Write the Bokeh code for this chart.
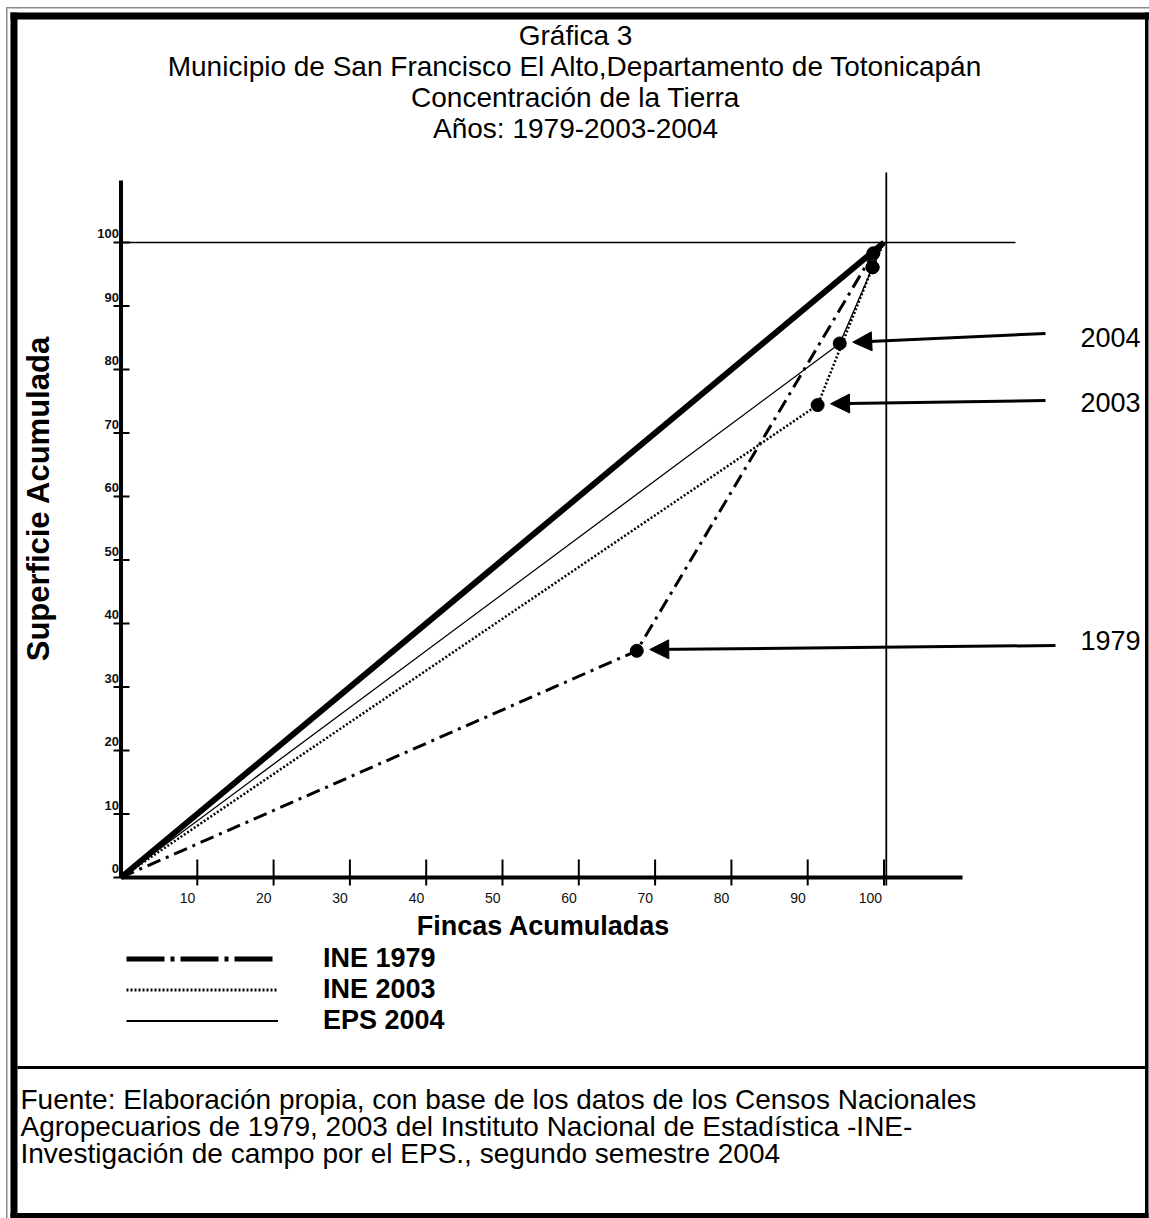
import math
from bokeh.plotting import figure
from bokeh.models import Range1d, Arrow, NormalHead, Legend, LegendItem
from bokeh.core.properties import value
from bokeh.embed import file_html
from bokeh.resources import INLINE

# ---------------- data ----------------
fincas_1979 = [0, 67.6, 98.6, 100]
superficie_1979 = [0, 35.7, 98.3, 100]
fincas_2003 = [0, 91.3, 98.5, 100]
superficie_2003 = [0, 74.4, 96.1, 100]
fincas_2004 = [0, 94.2, 98.5, 100]
superficie_2004 = [0, 84.1, 96.1, 100]
equidad = [0, 100]
x_ticks = [10, 20, 30, 40, 50, 60, 70, 80, 90, 100]
y_ticks = [0, 10, 20, 30, 40, 50, 60, 70, 80, 90, 100]
series_labels = ["INE 1979", "INE 2003", "EPS 2004"]
callout_labels = ["1979", "2003", "2004"]
title_lines = ["Gráfica 3",
               "Municipio de San Francisco El Alto,Departamento de Totonicapán",
               "Concentración de la Tierra",
               "Años: 1979-2003-2004"]
source_lines = ["Fuente:  Elaboración propia, con base de los datos de los Censos Nacionales",
                "Agropecuarios de 1979, 2003 del Instituto Nacional de Estadística -INE-",
                "Investigación de campo por el EPS., segundo semestre 2004"]

# ---------------- layout ----------------
W, H = 1149, 1218
PAGE = 0
X0_REF, SX = 120.5, 7.63
Y0_REF, SY = 877.0, 6.35
FONT = "Liberation Sans"


def fx(px):
    return (px - X0_REF) / SX


def fy(py):
    return (Y0_REF - py) / SY


p = figure(width=W, height=H, x_range=Range1d(fx(PAGE), fx(PAGE + W)),
           y_range=Range1d(fy(PAGE + H), fy(PAGE)),
           x_axis_type=None, y_axis_type=None, title=None,
           output_backend="svg", toolbar_location=None, min_border=0)
p.outline_line_color = None
p.background_fill_color = "white"
p.border_fill_color = "white"

# ---------------- frame / borders ----------------
quads = [
    (5.5, 1149, 6.5, 8, "#8a8a8a"),            # thin top
    (5.5, 7, 6.5, 1218, "#8a8a8a"),            # thin left
    (10, 1149, 12, 19, "black"),               # thick top
    (10, 17, 12, 1218, "black"),               # thick left
    (1144.5, 1148, 12, 1218, "black"),         # right
    (10, 1148, 1212.5, 1218, "black"),         # bottom
    (17, 1144.5, 1065.5, 1068.5, "black"),     # separator
]
p.quad(left=[fx(q[0]) for q in quads], right=[fx(q[1]) for q in quads],
       top=[fy(q[2]) for q in quads], bottom=[fy(q[3]) for q in quads],
       fill_color=[q[4] for q in quads], line_color=None)

# ---------------- axes & reference lines ----------------
p.segment(x0=[0], y0=[0], x1=[0], y1=[fy(180)], line_width=4, line_color="black")
p.segment(x0=[0], y0=[0], x1=[fx(962)], y1=[0], line_width=4, line_color="black")
p.segment(x0=[0], y0=[100], x1=[fx(1015)], y1=[100], line_width=1.6, line_color="black")
p.segment(x0=[100.3], y0=[fy(885)], x1=[100.3], y1=[fy(172)], line_width=1.8, line_color="black")

p.segment(x0=[fx(113)] * len(y_ticks), y0=y_ticks, x1=[fx(129)] * len(y_ticks), y1=y_ticks,
          line_width=2.2, line_color="black")
p.segment(x0=x_ticks, y0=[fy(885)] * len(x_ticks), x1=x_ticks, y1=[fy(859)] * len(x_ticks),
          line_width=2, line_color="black")

p.text(x=[fx(118.5)] * len(y_ticks), y=y_ticks, text=[str(v) for v in y_ticks],
       y_offset=-9, text_align="right", text_baseline="middle",
       text_font=value(FONT), text_font_size="13px", text_font_style="bold", text_color="#111111")
p.text(x=x_ticks, y=[fy(897)] * len(x_ticks), text=[str(v) for v in x_ticks],
       x_offset=-2, text_align="right", text_baseline="middle",
       text_font=value(FONT), text_font_size="14px", text_color="#111111")

# axis titles
p.text(x=[fx(543)], y=[fy(925)], text=["Fincas Acumuladas"], text_align="center",
       text_baseline="middle", text_font=value(FONT), text_font_size="27px",
       text_font_style="bold", text_color="black")
p.text(x=[fx(38)], y=[fy(498)], text=["Superficie Acumulada"], angle=math.pi / 2,
       text_align="center", text_baseline="middle", text_font=value(FONT),
       text_font_size="31px", text_font_style="bold", text_color="black")

# ---------------- series ----------------
p.line(equidad, equidad, line_width=6, line_color="black")
p.line(fincas_2004, superficie_2004, line_width=1.3, line_color="black")
p.line(fincas_2003, superficie_2003, line_width=2.5, line_color="black", line_dash="2 2")
p.line(fincas_1979, superficie_1979, line_width=3, line_color="black", line_dash="14 6 3 6")

for fx_, sy_ in [(fincas_1979, superficie_1979), (fincas_2003, superficie_2003),
                 (fincas_2004, superficie_2004)]:
    p.scatter(fx_[1:3], sy_[1:3], size=13, marker="circle", fill_color="black", line_color="black")

# ---------------- callout arrows ----------------
arrow_start = [(fx(1055), fy(645)), (fx(1045), fy(400)), (fx(1045), fy(333))]
pts = [(fincas_1979[1], superficie_1979[1]), (fincas_2003[1], superficie_2003[1]),
       (fincas_2004[1], superficie_2004[1])]
for (xs, ys), (xp, yp) in zip(arrow_start, pts):
    p.add_layout(Arrow(x_start=xs, y_start=ys, x_end=xp + 1.7, y_end=yp + 0.2,
                       line_width=3, line_color="black",
                       end=NormalHead(size=19, fill_color="black", line_color="black")))
p.text(x=[fx(1140)] * 3, y=[fy(640), fy(402), fy(337)], text=callout_labels,
       text_align="right", text_baseline="middle", text_font=value(FONT),
       text_font_size="27px", text_color="black")

# ---------------- legend ----------------
nan = float("nan")
lg1 = p.line([nan], [nan], line_width=5, line_color="black", line_dash="38 6 4 6")
lg2 = p.line([nan], [nan], line_width=3, line_color="black", line_dash="2 2")
lg3 = p.line([nan], [nan], line_width=2, line_color="black")
legend = Legend(items=[LegendItem(label=series_labels[0], renderers=[lg1]),
                       LegendItem(label=series_labels[1], renderers=[lg2]),
                       LegendItem(label=series_labels[2], renderers=[lg3])],
                location=(126, H - 1036), glyph_width=152, glyph_height=31, label_height=31,
                label_standoff=45, spacing=0, padding=0, margin=0,
                label_text_font=FONT, label_text_font_size="27px",
                label_text_font_style="bold", label_text_color="black",
                border_line_color=None, background_fill_alpha=0)
p.add_layout(legend, "center")

# ---------------- title & source ----------------
p.text(x=[fx(575)] * 4, y=[fy(v) for v in (35, 66, 97, 128)], text=title_lines,
       text_align="center", text_baseline="middle", text_font=value(FONT),
       text_font_size="28px", text_color="black")
p.text(x=[fx(20)] * 3, y=[fy(v) for v in (1099, 1126, 1153)], text=source_lines,
       text_align="left", text_baseline="middle", text_font=value(FONT),
       text_font_size="28px", text_color="black")

open("out.html", "w").write(file_html(p, INLINE))
